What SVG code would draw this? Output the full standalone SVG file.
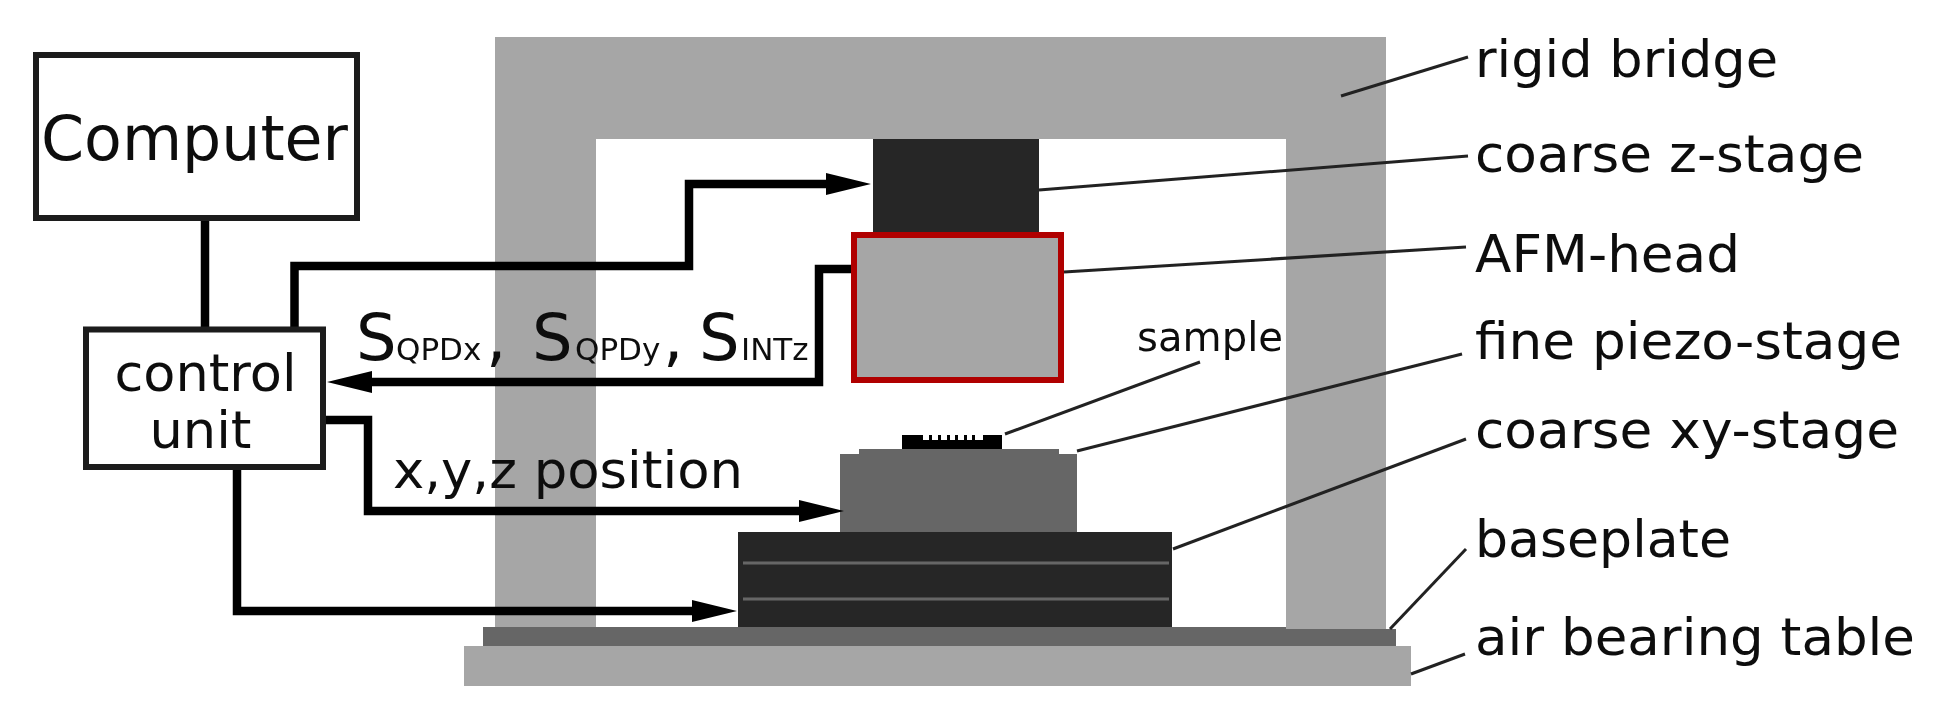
<svg xmlns="http://www.w3.org/2000/svg" width="1956" height="722" viewBox="0 0 1956 722">
<defs>
<marker id="arrow" markerUnits="userSpaceOnUse" markerWidth="46" markerHeight="24" refX="0" refY="12" orient="auto">
<path d="M0 1L45 12L0 23Z" fill="#000"/>
</marker>
<filter id="soft" filterUnits="userSpaceOnUse" x="0" y="0" width="1956" height="722"><feGaussianBlur stdDeviation="0.7"/></filter>
</defs>
<style>
text{font-family:"DejaVu Sans","Liberation Sans",sans-serif;fill:#111}
.l{font-size:52px}
.box{fill:#fff;stroke:#1a1a1a;stroke-width:6}
.w{fill:none;stroke:#000;stroke-width:8.500;stroke-linejoin:miter}
.lead{fill:none;stroke:#222;stroke-width:3}
.lg{fill:#a6a6a6}.md{fill:#666}.dk{fill:#262626}
.sub{font-size:31px}
</style>
<rect width="1956" height="722" fill="#fff"/>
<g filter="url(#soft)">
<g id="rigid-bridge"><path class="lg" d="M495 37H1386V629H1286V139H596V627H495Z"/></g>
<g id="air-bearing-table"><rect class="lg" x="464" y="646" width="947" height="40"/></g>
<g id="baseplate"><path class="md" d="M483 627H1286V629H1396V646H483Z"/></g>
<g id="coarse-xy-stage"><rect class="dk" x="738" y="532" width="434" height="95"/>
<path d="M743 563H1169M743 599H1169" stroke="#666" stroke-width="3" fill="none"/></g>
<g id="fine-piezo-stage"><path class="md" d="M840 454H859V449H1059V454H1077V532H840Z"/></g>
<g id="sample"><path fill="#000" d="M902 435H923V440H929V435H932V440H938V435H941V440H947V435H950V440H955V435H958V440H964V435H967V440H972V435H975V440H983V435H1002V449H902Z"/></g>
<g id="coarse-z-stage"><rect class="dk" x="873" y="139" width="166" height="94"/></g>
<g id="connectors">
<path class="w" d="M205 221V330"/>
<path class="w" d="M294.500 330V266H689V184H826" marker-end="url(#arrow)"/>
<path class="w" d="M856 269H819V382H372" marker-end="url(#arrow)"/>
<path class="w" d="M323 420H368V511H799" marker-end="url(#arrow)"/>
<path class="w" d="M237 466V611H692" marker-end="url(#arrow)"/>
<path class="lead" d="M1341 96L1468 57"/>
<path class="lead" d="M1039 190L1468 156"/>
<path class="lead" d="M1064 272L1466 247"/>
<path class="lead" d="M1005 434L1200 362"/>
<path class="lead" d="M1077 451L1462 354"/>
<path class="lead" d="M1173 549L1466 439"/>
<path class="lead" d="M1390 629L1466 549"/>
<path class="lead" d="M1411 674L1465 654"/>
</g>
<g id="afm-head"><rect x="854" y="235" width="207" height="145" fill="#a6a6a6" stroke="#b00000" stroke-width="6"/></g>
<g id="computer"><rect class="box" x="36" y="55" width="321" height="163"/>
<text x="41" y="160" font-size="62" textLength="307" lengthAdjust="spacingAndGlyphs">Computer</text></g>
<g id="control-unit"><rect class="box" x="86" y="329.500" width="237" height="137.500"/>
<text x="114.500" y="391" class="l" textLength="182" lengthAdjust="spacingAndGlyphs">control</text>
<text x="149.500" y="448" class="l" textLength="102" lengthAdjust="spacingAndGlyphs">unit</text></g>
<g id="signal-labels">
<text y="360" font-size="64"><tspan x="356">S</tspan><tspan x="396" class="sub">QPDx</tspan><tspan x="486">,</tspan><tspan x="532">S</tspan><tspan x="575" class="sub">QPDy</tspan><tspan x="663">,</tspan><tspan x="699">S</tspan><tspan x="741" class="sub">INTz</tspan></text>
<text x="393" y="488" class="l" textLength="350" lengthAdjust="spacingAndGlyphs">x,y,z position</text>
<text x="1137" y="351" font-size="40" textLength="146" lengthAdjust="spacingAndGlyphs">sample</text>
</g>
<g id="labels">
<text x="1475" y="77" class="l" textLength="303" lengthAdjust="spacingAndGlyphs">rigid bridge</text>
<text x="1475" y="172" class="l" textLength="389" lengthAdjust="spacingAndGlyphs">coarse z-stage</text>
<text x="1475" y="272" class="l" textLength="265" lengthAdjust="spacingAndGlyphs">AFM-head</text>
<text x="1475" y="359" class="l" textLength="427" lengthAdjust="spacingAndGlyphs">fine piezo-stage</text>
<text x="1475" y="448" class="l" textLength="424" lengthAdjust="spacingAndGlyphs">coarse xy-stage</text>
<text x="1475" y="557" class="l" textLength="256" lengthAdjust="spacingAndGlyphs">baseplate</text>
<text x="1475" y="655" class="l" textLength="440" lengthAdjust="spacingAndGlyphs">air bearing table</text>
</g>
</g>
</svg>
